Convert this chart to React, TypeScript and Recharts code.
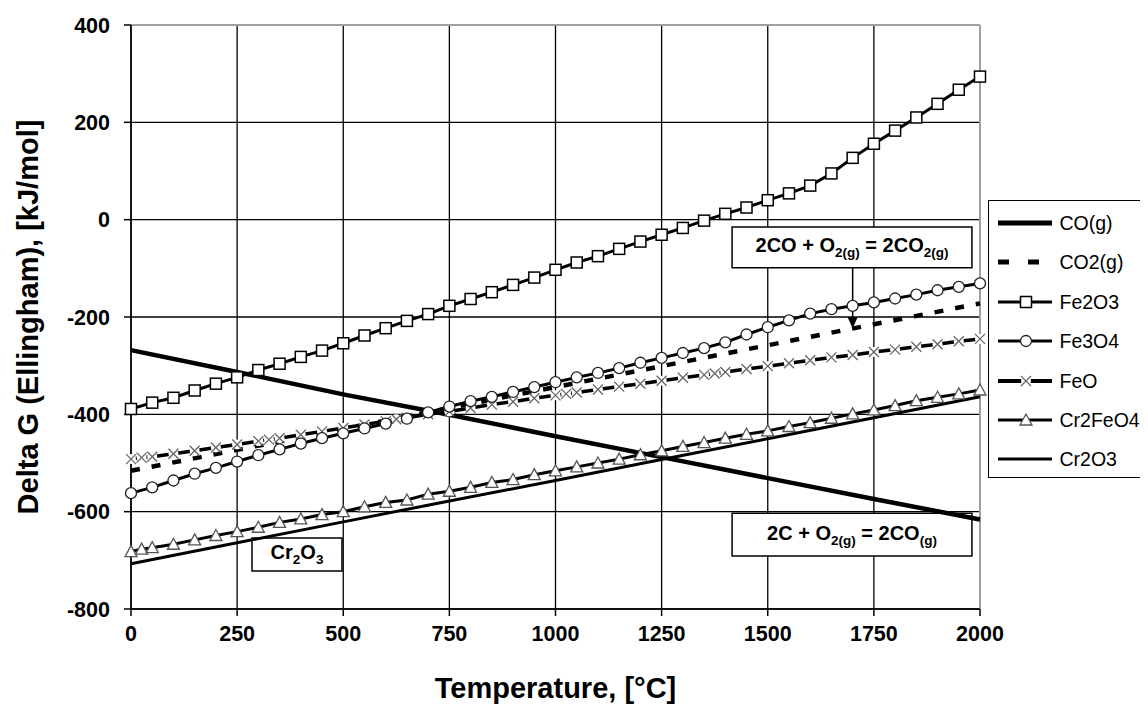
import React from 'react';
import { LineChart, Line, XAxis, YAxis, CartesianGrid, ReferenceLine, ReferenceArea } from 'recharts';

const FONT = '"Liberation Sans", Arial, Helvetica, sans-serif';

// temperatures (°C) of the marker series
const temps = [
  0, 50, 100, 150, 200, 250, 300, 350, 400, 450, 500, 550, 600, 650, 700, 750, 800, 850, 900, 950, 1000,
  1050, 1100, 1150, 1200, 1250, 1300, 1350, 1400, 1450, 1500, 1550, 1600, 1650, 1700, 1750, 1800, 1850,
  1900, 1950, 2000,
];
const tempsFeO = [
  0, 25, 50, 100, 150, 200, 250, 300, 325, 350, 400, 450, 500, 550, 600, 625, 650, 700, 750, 800, 850,
  900, 950, 1000, 1025, 1050, 1100, 1150, 1200, 1250, 1300, 1350, 1375, 1400, 1450, 1500, 1550, 1600,
  1650, 1700, 1750, 1800, 1850, 1900, 1950, 2000,
];
const tempsCr2FeO4 = [
  0, 25, 50, 100, 150, 200, 250, 300, 350, 400, 450, 500, 550, 600, 650, 700, 750, 800, 850, 900, 950,
  1000, 1050, 1100, 1150, 1200, 1250, 1300, 1350, 1400, 1450, 1500, 1550, 1600, 1650, 1700, 1750, 1800,
  1850, 1900, 1950, 2000,
];
const tempsPlain = [0, 250, 500, 750, 1000, 1250, 1500, 1750, 2000];

// Delta G, kJ/mol
const coG = [-268, -313, -359, -401, -445, -488, -531, -574, -616];
const co2G = [-516, -473, -430, -387, -344, -301, -258, -215, -172];
const cr2o3 = [-707, -664, -621, -578, -536, -493, -450, -407, -364];
const fe2o3 = [
  -389, -376, -366, -351, -337, -324, -309, -296, -282, -269, -254, -238, -223, -208, -194, -177, -163,
  -149, -134, -119, -103, -88, -75, -60, -45, -31, -17, -2, 12, 25, 40, 54, 70, 95, 127, 156, 183, 210,
  238, 267, 294,
];
const fe3o4 = [
  -562, -550, -536, -522, -510, -497, -484, -472, -460, -449, -439, -429, -419, -409, -396, -384, -373,
  -364, -354, -344, -334, -324, -315, -305, -294, -284, -274, -264, -252, -236, -221, -207, -193, -184,
  -177, -170, -162, -154, -145, -138, -131,
];
const feo = [
  -492, -489, -487, -481, -475, -468, -462, -455, -452, -449, -442, -435, -428, -421, -414, -410, -407,
  -400, -394, -387, -380, -374, -367, -361, -358, -355, -349, -343, -337, -331, -325, -319, -316, -313,
  -307, -301, -295, -289, -283, -278, -272, -267, -261, -256, -250, -245,
];
const cr2feo4 = [
  -682, -677, -674, -667, -658, -649, -641, -632, -622, -615, -606, -600, -590, -581, -576, -564, -558,
  -550, -540, -534, -524, -516, -508, -500, -492, -483, -475, -466, -458, -449, -441, -434, -425, -417,
  -408, -399, -391, -382, -372, -365, -358, -350,
];

const xTicks = [0, 250, 500, 750, 1000, 1250, 1500, 1750, 2000];
const yTicks = [-800, -600, -400, -200, 0, 200, 400];
const legendNames = ['CO(g)', 'CO2(g)', 'Fe2O3', 'Fe3O4', 'FeO', 'Cr2FeO4', 'Cr2O3'];

const rows = (t: number[], v: number[], key: string) => t.map((x, i) => ({ t: x, [key]: v[i] }));

const Square = ({ cx, cy }: any) => (
  <rect x={cx - 5.5} y={cy - 5.5} width={11} height={11} fill="#fff" stroke="#000" strokeWidth={1.5} />
);
const Circ = ({ cx, cy }: any) => <circle cx={cx} cy={cy} r={5.5} fill="#fff" stroke="#222" strokeWidth={1.3} />;
const Cross = ({ cx, cy }: any) => (
  <g>
    <circle cx={cx} cy={cy} r={5} fill="#fff" />
    <path d={`M${cx - 5},${cy - 5}L${cx + 5},${cy + 5}M${cx - 5},${cy + 5}L${cx + 5},${cy - 5}`} stroke="#666" strokeWidth={1.3} />
  </g>
);
const Tri = ({ cx, cy }: any) => (
  <polygon points={`${cx},${cy - 6} ${cx - 6},${cy + 5} ${cx + 6},${cy + 5}`} fill="#fff" stroke="#555" strokeWidth={1.3} />
);

const dotOf = (Shape: any) => (p: any) => {
  if (p.cx == null || p.cy == null) return <g key={`e${p.index}`} />;
  return <Shape key={`d${p.index}`} cx={p.cx} cy={p.cy} />;
};

const sub = 13.5;

const EqCO2 = ({ viewBox }: any) => (
  <text x={viewBox.x + viewBox.width / 2} y={viewBox.y + viewBox.height / 2 + 5} textAnchor="middle"
    fontFamily={FONT} fontWeight="bold" fontSize={20} fill="#000">
    <tspan>2CO + O</tspan>
    <tspan fontSize={sub} dy={5}>2(g)</tspan>
    <tspan dy={-5}> = 2CO</tspan>
    <tspan fontSize={sub} dy={5}>2(g)</tspan>
  </text>
);
const EqCO = ({ viewBox }: any) => (
  <text x={viewBox.x + viewBox.width / 2} y={viewBox.y + viewBox.height / 2 + 5} textAnchor="middle"
    fontFamily={FONT} fontWeight="bold" fontSize={20} fill="#000">
    <tspan>2C + O</tspan>
    <tspan fontSize={sub} dy={5}>2(g)</tspan>
    <tspan dy={-5}> = 2CO</tspan>
    <tspan fontSize={sub} dy={5}>(g)</tspan>
  </text>
);
const EqCr = ({ viewBox }: any) => (
  <text x={viewBox.x + viewBox.width / 2} y={viewBox.y + viewBox.height / 2 + 5} textAnchor="middle"
    fontFamily={FONT} fontWeight="bold" fontSize={20} fill="#000">
    <tspan>Cr</tspan>
    <tspan fontSize={sub} dy={5}>2</tspan>
    <tspan dy={-5}>O</tspan>
    <tspan fontSize={sub} dy={5}>3</tspan>
  </text>
);

const Arrow = (p: any) => (
  <g>
    <line x1={p.x1} y1={p.y1} x2={p.x2} y2={p.y2 - 8} stroke="#000" strokeWidth={1.5} />
    <polygon points={`${p.x2},${p.y2} ${p.x2 - 5},${p.y2 - 11} ${p.x2 + 5},${p.y2 - 11}`} fill="#000" />
  </g>
);

const LegendSample = ({ i }: { i: number }) => {
  const line = (w: number, dash?: string) => (
    <line x1={0} y1={10} x2={54} y2={10} stroke="#000" strokeWidth={w} strokeDasharray={dash} />
  );
  return (
    <svg width={56} height={20} style={{ display: 'block' }}>
      {i === 0 && line(5)}
      {i === 1 && line(5, '11 19')}
      {i === 2 && <>{line(3)}<Square cx={28} cy={10} /></>}
      {i === 3 && <>{line(3)}<Circ cx={28} cy={10} /></>}
      {i === 4 && <>{line(4)}<Cross cx={28} cy={10} /></>}
      {i === 5 && <>{line(3)}<Tri cx={28} cy={10} /></>}
      {i === 6 && line(3)}
    </svg>
  );
};

const tickStyle = { fontSize: 21.5, fontWeight: 700, fill: '#000', fontFamily: FONT };

export default function App() {
  return (
    <div style={{ position: 'relative', width: 1140, height: 698, overflow: 'hidden', fontFamily: FONT }}>
      <LineChart width={1140} height={698} margin={{ top: 17, right: 168, bottom: 0, left: 0 }}>
        <CartesianGrid stroke="#000" strokeWidth={1.3} />
        <XAxis
          type="number"
          dataKey="t"
          domain={[0, 2000]}
          ticks={xTicks}
          height={97}
          tickSize={7}
          tickMargin={10}
          tick={tickStyle}
          axisLine={{ stroke: '#000', strokeWidth: 1.5 }}
          tickLine={{ stroke: '#000', strokeWidth: 1.5 }}
          label={(props: any) => (
            <text x={props.viewBox.x + props.viewBox.width / 2} y={props.viewBox.y + 89} textAnchor="middle"
              fontFamily={FONT} fontWeight="bold" fontSize={29} fill="#000">
              Temperature, [°C]
            </text>
          )}
        />
        <YAxis
          type="number"
          domain={[-800, 400]}
          ticks={yTicks}
          width={123}
          tickSize={7}
          tickMargin={14}
          tick={tickStyle}
          axisLine={{ stroke: '#000', strokeWidth: 1.5 }}
          tickLine={{ stroke: '#000', strokeWidth: 1.5 }}
          label={(props: any) => {
            const cy = props.viewBox.y + props.viewBox.height / 2;
            return (
              <text x={20} y={cy} transform={`rotate(-90 20 ${cy})`} textAnchor="middle" dominantBaseline="central"
                fontFamily={FONT} fontWeight="bold" fontSize={29} fill="#000">
                Delta G (Ellingham), [kJ/mol]
              </text>
            );
          }}
        />
        <ReferenceLine y={400} stroke="#a0a0a0" strokeWidth={2} />
        <ReferenceLine x={2000} stroke="#a0a0a0" strokeWidth={2} />

        <Line data={rows(tempsPlain, coG, 'co')} dataKey="co" stroke="#000" strokeWidth={4.5} dot={false} activeDot={false} isAnimationActive={false} />
        <Line data={rows(tempsPlain, co2G, 'co2')} dataKey="co2" stroke="#000" strokeWidth={4.5} strokeDasharray="9 12" dot={false} activeDot={false} isAnimationActive={false} />
        <Line data={rows(tempsPlain, cr2o3, 'cr2o3')} dataKey="cr2o3" stroke="#000" strokeWidth={3} dot={false} activeDot={false} isAnimationActive={false} />
        <Line data={rows(tempsFeO, feo, 'feo')} dataKey="feo" stroke="#000" strokeWidth={3.5} dot={dotOf(Cross)} activeDot={false} isAnimationActive={false} />
        <Line data={rows(tempsCr2FeO4, cr2feo4, 'cr2feo4')} dataKey="cr2feo4" stroke="#000" strokeWidth={3} dot={dotOf(Tri)} activeDot={false} isAnimationActive={false} />
        <Line data={rows(temps, fe3o4, 'fe3o4')} dataKey="fe3o4" stroke="#000" strokeWidth={3} dot={dotOf(Circ)} activeDot={false} isAnimationActive={false} />
        <Line data={rows(temps, fe2o3, 'fe2o3')} dataKey="fe2o3" stroke="#000" strokeWidth={3} dot={dotOf(Square)} activeDot={false} isAnimationActive={false} />

        <ReferenceArea x1={1416} x2={1981} y1={-99} y2={-15} fill="#fff" fillOpacity={1} stroke="#000" strokeWidth={1.5}
          label={(p: any) => <EqCO2 viewBox={p.viewBox} />} />
        <ReferenceLine segment={[{ x: 1700, y: -99 }, { x: 1700, y: -223 }]} stroke="#000" shape={Arrow} />
        <ReferenceArea x1={1416} x2={1981} y1={-691} y2={-603} fill="#fff" fillOpacity={1} stroke="#000" strokeWidth={1.5}
          label={(p: any) => <EqCO viewBox={p.viewBox} />} />
        <ReferenceArea x1={285} x2={497} y1={-722} y2={-654} fill="#fff" fillOpacity={1} stroke="#000" strokeWidth={1.5}
          label={(p: any) => <EqCr viewBox={p.viewBox} />} />
      </LineChart>

      <div style={{ position: 'absolute', left: 980, top: 192, width: 170, height: 276, border: '1.5px solid #000', borderRight: 'none', background: '#fff' }}>
        {legendNames.map((name, i) => (
          <div key={name} style={{ position: 'absolute', left: 8.5, top: 22 + i * 39.4 - 11, height: 22, display: 'flex', alignItems: 'center' }}>
            <LegendSample i={i} />
            <span style={{ marginLeft: 6, fontSize: 19.5, color: '#000', lineHeight: '22px', whiteSpace: 'nowrap' }}>{name}</span>
          </div>
        ))}
      </div>
    </div>
  );
}
